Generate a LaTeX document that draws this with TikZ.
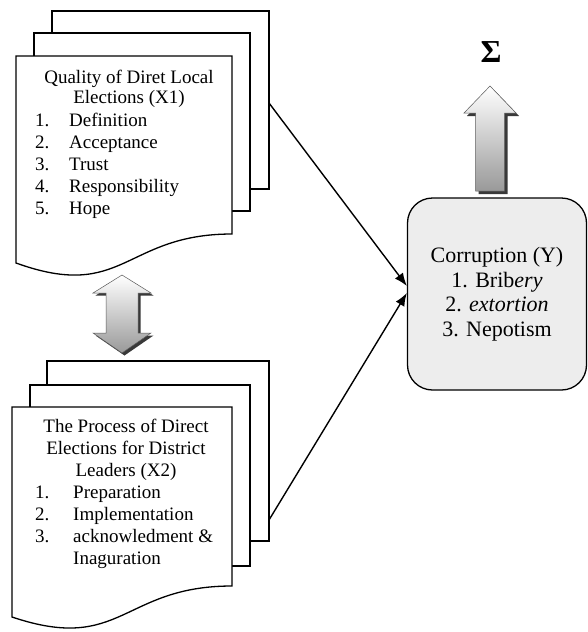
\documentclass[tikz,border=0pt]{standalone}
\usepackage{fontspec}
\setmainfont{Liberation Serif}
\usetikzlibrary{arrows.meta,calc}
\begin{document}
\begin{tikzpicture}[x=1pt,y=-1pt,
  sheet/.style={draw=black, line width=1.3pt, fill=white},
  doctext/.style={font=\fontsize{19}{22}\selectfont, inner sep=0pt, anchor=base},
  listnum/.style={doctext, anchor=base west},
  conn/.style={draw=black, line width=1.4pt, -{Latex[length=13pt,width=10pt]}},
  bigarrow/.style={top color=white, bottom color=gray!80, draw=gray!70!black, line width=0.5pt},
  arrowshadow/.style={fill=gray!45!black},
  corrbox/.style={draw=black, line width=1.3pt, fill=black!7, rounded corners=25pt,
    minimum width=179pt, minimum height=192pt, align=center,
    font=\fontsize{22}{24.5}\selectfont, inner sep=0pt}
]
\useasboundingbox (0,0) rectangle (588,632);

% ---------- top multidocument ----------
\draw[sheet] (52,11) rectangle (269,189);
\draw[sheet] (34,33) rectangle (250,211);
\draw[sheet] (16,56) -- (232,56) -- (232,234)
  .. controls (124,234) and (124,302) .. (16,263) -- cycle;
\coordinate (x1out) at (269,103);

\node[doctext] (t1) at (129,83) {Quality of Diret Local};
\node[doctext] (t2) at (129,103) {Elections (X1)};
\node[listnum] (n1) at (35,126) {1.};
\node[listnum] (i1) at (69,126) {Definition};
\node[listnum] (n2) at (35,148) {2.};
\node[listnum] (i2) at (69,148) {Acceptance};
\node[listnum] (n3) at (35,170) {3.};
\node[listnum] (i3) at (69,170) {Trust};
\node[listnum] (n4) at (35,192) {4.};
\node[listnum] (i4) at (69,192) {Responsibility};
\node[listnum] (n5) at (35,214) {5.};
\node[listnum] (i5) at (69,214) {Hope};

% ---------- bottom multidocument ----------
\draw[sheet] (47,361) rectangle (269,541);
\draw[sheet] (30,385) rectangle (250,566);
\draw[sheet] (12,407) -- (232,407) -- (232,586)
  .. controls (122,586) and (122,654) .. (12,617) -- cycle;
\coordinate (x2out) at (269,520);

\node[doctext] (b1) at (126,432) {The Process of Direct};
\node[doctext] (b2) at (126,454) {Elections for District};
\node[doctext] (b3) at (126,476) {Leaders (X2)};
\node[listnum] (m1) at (35,498) {1.};
\node[listnum] (j1) at (73,498) {Preparation};
\node[listnum] (m2) at (35,520) {2.};
\node[listnum] (j2) at (73,520) {Implementation};
\node[listnum] (m3) at (35,542) {3.};
\node[listnum] (j3) at (73,542) {acknowledment \&};
\node[listnum] (j4) at (73,564) {Inaguration};

% ---------- corruption box ----------
\node[corrbox] (corr) at (497,294)
  {Corruption (Y)\\ 1. Brib\textit{ery}\\ 2. \textit{extortion}\\ 3. Nepotism};
\coordinate (in1) at ($(corr.west)+(0,-8)$);
\coordinate (in2) at ($(corr.west)+(0,-1)$);

\draw[conn] (x1out) -- (in1);
\draw[conn] (x2out) -- (in2);

% ---------- double arrow ----------
\fill[arrowshadow] (124.5,277.5) -- (153.5,295.5) -- (140.5,295.5) -- (140.5,335.5)
  -- (153.5,335.5) -- (124.5,355.5) -- (95.5,335.5) -- (108.5,335.5)
  -- (108.5,295.5) -- (95.5,295.5) -- cycle;
\path[bigarrow] (122,275) -- (151,293) -- (138,293) -- (138,333) -- (151,333)
  -- (122,353) -- (93,333) -- (106,333) -- (106,293) -- (93,293) -- cycle;

% ---------- up arrow and sigma ----------
\fill[arrowshadow] (493,89) -- (519,116) -- (507.5,116) -- (507.5,194)
  -- (478.5,194) -- (478.5,116) -- (467,116) -- cycle;
\path[bigarrow] (490,86) -- (516,113) -- (504.5,113) -- (504.5,191)
  -- (475.5,191) -- (475.5,113) -- (464,113) -- cycle;

\node[font=\fontsize{32}{34}\selectfont\bfseries, inner sep=0pt] (sigma) at (491,52) {Σ};
\end{tikzpicture}
\end{document}
